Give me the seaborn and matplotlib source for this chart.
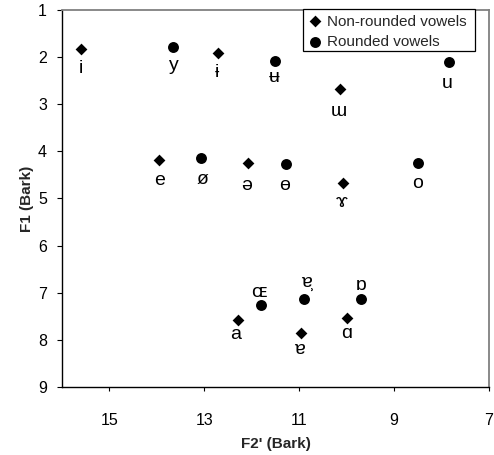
import matplotlib
matplotlib.use("Agg")
import matplotlib.pyplot as plt
from matplotlib.patches import Rectangle
from matplotlib.transforms import IdentityTransform
import pandas as pd
import seaborn as sns

# ---- data ----
nonround_vowels = ['i', 'ɨ', 'ɯ', 'e', 'ə', 'ɤ', 'a', 'ɐ', 'ɑ']
nonround_f2 = [15.61, 12.71, 10.13, 13.95, 12.09, 10.07, 12.30, 10.96, 10.00]
nonround_f1 = [1.83, 1.91, 2.68, 4.18, 4.24, 4.67, 7.58, 7.85, 7.53]

round_vowels = ['y', 'ʉ', 'u', 'ø', 'ɵ', 'o', 'ɶ', 'ɐ̹', 'ɒ']
round_f2 = [13.65, 11.52, 7.84, 13.06, 11.28, 8.50, 11.81, 10.89, 9.70]
round_f1 = [1.78, 2.08, 2.11, 4.15, 4.26, 4.24, 7.26, 7.14, 7.13]

series_names = ['Non-rounded vowels', 'Rounded vowels']
x_ticks = [15, 13, 11, 9, 7]
y_ticks = [1, 2, 3, 4, 5, 6, 7, 8, 9]

# ---- layout: label baseline offsets (pixels, negative = below marker) ----
nonround_label_dy = [-24, -24.5, -27, -25.5, -27, -24, -18.5, -21, -20.5]
round_label_dy = [-23, -21.5, -25.5, -26, -26.5, -25.5, 8, 12.5, 8.5]
round_label_dx = [0, 0, -2, 1, -1, 0, -2, 2, 0]
nonround_label_dx = [0, -1, -2, 0, -1, -2, -2, -2, 0]

df_n = pd.DataFrame({'F2': nonround_f2, 'F1': nonround_f1, 'vowel': nonround_vowels})
df_r = pd.DataFrame({'F2': round_f2, 'F1': round_f1, 'vowel': round_vowels})

sns.set_theme(style='ticks')
plt.rcParams['font.family'] = ['Liberation Sans', 'DejaVu Sans']

W, H = 494, 455
fig = plt.figure(figsize=(W / 100, H / 100), dpi=100)
ax = fig.add_axes([62 / W, 1 - 387 / H, 427 / W, 377 / H])

sns.scatterplot(data=df_n, x='F2', y='F1', marker='D', s=36, color='black',
                linewidth=0, label=series_names[0], ax=ax, legend=False)
sns.scatterplot(data=df_r, x='F2', y='F1', marker='o', s=62, color='black',
                linewidth=0, label=series_names[1], ax=ax, legend=False)

for df, dys, dxs in ((df_n, nonround_label_dy, nonround_label_dx),
                     (df_r, round_label_dy, round_label_dx)):
    for (_, row), dy, dx in zip(df.iterrows(), dys, dxs):
        ax.annotate(row['vowel'], (row['F2'], row['F1']), xytext=(dx, dy),
                    textcoords='offset pixels', ha='center', va='baseline',
                    fontsize=14, color='black',
                    family=['Liberation Sans', 'DejaVu Sans'])

ax.set_xlim(16, 7)
ax.set_ylim(9, 1)
ax.set_xticks(x_ticks)
ax.set_xticklabels([str(t) for t in x_ticks])
ax.set_yticks(y_ticks)
ax.set_yticklabels([str(t) for t in y_ticks])

ax.tick_params(axis='x', direction='out', length=3, width=0.8, pad=15.5,
               labelsize=11.5, colors='black')
ax.tick_params(axis='y', direction='out', length=3.4, width=0.8, pad=7.5,
               labelsize=11.5, colors='black')

ax.set_xlabel("F2' (Bark)", fontsize=11, fontweight='bold', labelpad=7)
ax.set_ylabel("F1 (Bark)", fontsize=11, fontweight='bold', labelpad=3)

for side in ('left', 'bottom'):
    ax.spines[side].set_color('black')
    ax.spines[side].set_linewidth(1.0)
for side in ('top', 'right'):
    ax.spines[side].set_visible(True)
    ax.spines[side].set_color('#808080')
    ax.spines[side].set_linewidth(1.3)
ax.grid(False)
ax.set_facecolor('white')

# legend: entries without frame, frame drawn around with Excel-like padding
leg = ax.legend(loc='upper left', bbox_to_anchor=(307.5, H - 14.5),
                bbox_transform=IdentityTransform(), borderaxespad=0,
                borderpad=0, fontsize=11, frameon=False, handlelength=1.0,
                handletextpad=0.26, labelspacing=0.42, scatterpoints=1)
leg.set_zorder(6)
fig.canvas.draw()
bb = leg.get_window_extent()
pad_l, pad_r, pad_t, pad_b = 4.5, 9.0, 5.5, 2.0
frame = Rectangle((bb.x0 - pad_l, bb.y0 - pad_b),
                  bb.width + pad_l + pad_r, bb.height + pad_t + pad_b,
                  transform=IdentityTransform(), facecolor='white',
                  edgecolor='black', linewidth=0.9, zorder=5, clip_on=False)
ax.add_artist(frame)

fig.savefig('out.png', dpi=100, facecolor='white')
